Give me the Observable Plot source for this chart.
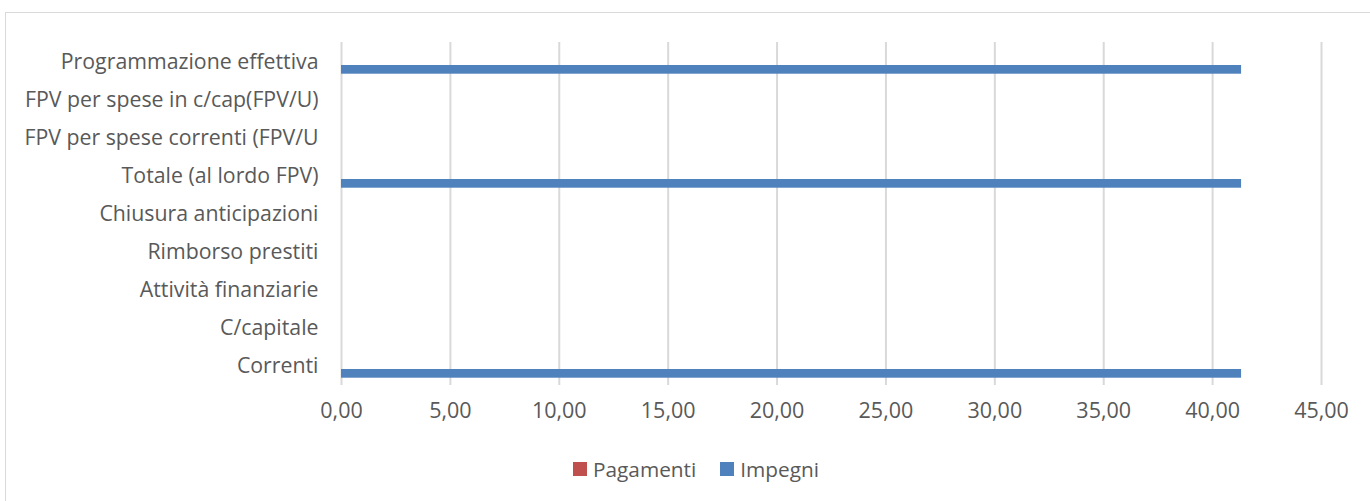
<!DOCTYPE html>
<html>
<head>
<meta charset="utf-8">
<script src="https://cdn.jsdelivr.net/npm/d3@7"></script>
<script src="https://cdn.jsdelivr.net/npm/@observablehq/plot@0.6"></script>
<style>
  html, body { margin: 0; padding: 0; background: #fff; }
  #wrap { position: relative; width: 1370px; height: 501px; overflow: hidden; font-family: "Open Sans", sans-serif; }
  #frame { position: absolute; left: 5px; top: 12px; width: 1400px; height: 520px; border: 1px solid #D9D9D9; box-sizing: border-box; }
  #chart { position: absolute; left: 0; top: 0; }
  #legend { position: absolute; left: 0; top: 455px; width: 1370px; display: flex; justify-content: center; align-items: center; gap: 24px; font-size: 20.8px; color: #595959; padding-left: 22px; box-sizing: border-box; }
  .item { display: flex; align-items: center; gap: 6px; }
  .sw { width: 14px; height: 14px; display: inline-block; }
</style>
</head>
<body>
<div id="wrap">
  <div id="frame"></div>
  <div id="chart"></div>
  <div id="legend"></div>
</div>
<script>
// Categories (bottom to top as in the chart)
const categories = [
  "Correnti",
  "C/capitale",
  "Attività finanziarie",
  "Rimborso prestiti",
  "Chiusura anticipazioni",
  "Totale (al lordo FPV)",
  "FPV per spese correnti (FPV/U",
  "FPV per spese in c/cap(FPV/U)",
  "Programmazione effettiva"
];
const pagamenti = [0, 0, 0, 0, 0, 0, 0, 0, 0];
const impegni   = [41.33, 0, 0, 0, 0, 41.33, 0, 0, 41.33];
const xTicks = [0, 5, 10, 15, 20, 25, 30, 35, 40, 45];
const seriesNames = ["Pagamenti", "Impegni"];
const seriesColors = ["#C0504D", "#4F81BD"];

const pagData = categories.map((c, i) => ({cat: c, value: pagamenti[i]}));
const impData = categories.map((c, i) => ({cat: c, value: impegni[i]}));

const fmt = d => d.toFixed(2).replace(".", ",");

const chart = Plot.plot({
  width: 1370,
  height: 450,
  marginLeft: 341,
  marginRight: 49,
  marginTop: 42,
  marginBottom: 65,
  style: {fontFamily: "'Open Sans', sans-serif", fontSize: "20px", color: "#595959", background: "transparent"},
  x: {domain: [0, 45], ticks: xTicks},
  y: {domain: categories.slice().reverse(), padding: 0},
  marks: [
    Plot.ruleX(xTicks, {stroke: "#D9D9D9", strokeWidth: 2}),
    Plot.barX(pagData, {x: "value", y: "cat", fill: seriesColors[0], insetTop: 13, insetBottom: 16}),
    Plot.barX(impData, {x: "value", y: "cat", fill: seriesColors[1], insetTop: 22, insetBottom: 7.3}),
    Plot.axisX({ticks: xTicks, tickFormat: fmt, tickSize: 0, tickPadding: 17, label: null, fontSize: 21.5}),
    Plot.axisY({tickSize: 0, tickPadding: 23, label: null, fontSize: 21.3})
  ]
});
document.getElementById("chart").appendChild(chart);

const legend = document.getElementById("legend");
seriesNames.forEach((n, i) => {
  const it = document.createElement("div");
  it.className = "item";
  it.innerHTML = `<span class="sw" style="background:${seriesColors[i]}"></span><span>${n}</span>`;
  legend.appendChild(it);
});
</script>
</body>
</html>
